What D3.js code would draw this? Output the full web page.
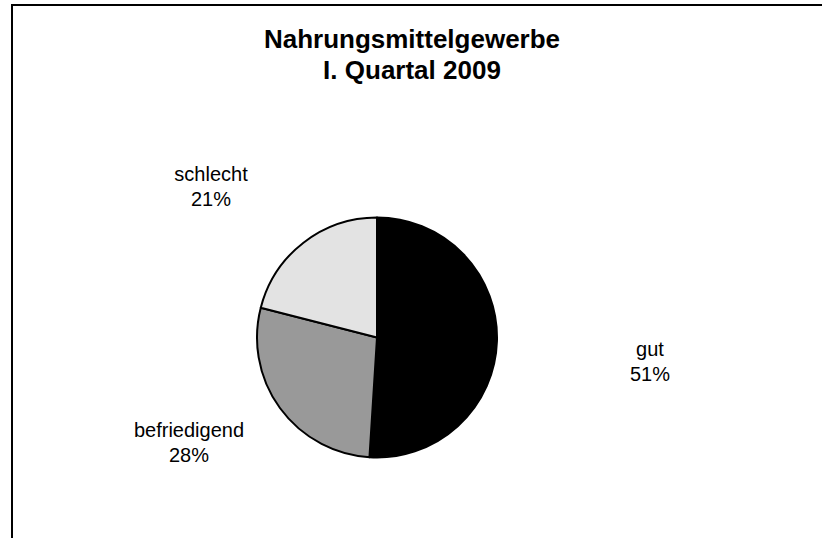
<!DOCTYPE html>
<html>
<head>
<meta charset="utf-8">
<script src="https://cdn.jsdelivr.net/npm/d3@7"></script>
<style>
  body { margin: 0; background: #fff; }
  text { font-family: "Liberation Sans", Arial, sans-serif; fill: #000; }
</style>
</head>
<body>
<svg width="822" height="538"></svg>
<script>
// categories and shares (percent)
var categories = ["gut", "befriedigend", "schlecht"];
var values = [51, 28, 21];
var titleLines = ["Nahrungsmittelgewerbe", "I. Quartal 2009"];

// look of the slices
var colors = ["#000000", "#999999", "#e3e3e3"];
// where each label block sits, relative to the pie centre (first baseline)
var labelOffset = [[273, 18], [-188, 99], [-166, -157]];

var svg = d3.select("svg"),
    cx = 377, cy = 337.5, radius = 120;

var data = categories.map(function(c, i) { return {name: c, value: values[i]}; });

// outer frame (runs off the right and bottom edge)
svg.append("path")
    .attr("d", "M12,560 L12,5 L840,5")
    .attr("fill", "none")
    .attr("stroke", "#000")
    .attr("stroke-width", 2);

// title
svg.append("g").selectAll("text")
    .data(titleLines).enter()
    .append("text")
    .attr("x", 412)
    .attr("y", function(d, i) { return 48 + i * 31; })
    .attr("text-anchor", "middle")
    .attr("font-size", 26)
    .attr("font-weight", "bold")
    .text(function(d) { return d; });

var pie = d3.pie()
    .sort(null)
    .value(function(d) { return d.value; });

var arc = d3.arc()
    .innerRadius(0)
    .outerRadius(radius);

var g = svg.append("g")
    .attr("transform", "translate(" + cx + "," + cy + ")");

g.selectAll("path")
    .data(pie(data)).enter()
    .append("path")
    .attr("d", arc)
    .attr("fill", function(d, i) { return colors[i]; })
    .attr("stroke", "#000")
    .attr("stroke-width", 2)
    .attr("stroke-linejoin", "round");

// data labels
var labels = g.selectAll("g.label")
    .data(pie(data)).enter()
    .append("g")
    .attr("class", "label")
    .attr("transform", function(d, i) {
        return "translate(" + labelOffset[i][0] + "," + labelOffset[i][1] + ")";
    });

labels.append("text")
    .attr("text-anchor", "middle")
    .attr("font-size", 20)
    .text(function(d) { return d.data.name; });
labels.append("text")
    .attr("text-anchor", "middle")
    .attr("font-size", 20)
    .attr("y", 25)
    .text(function(d) { return d.data.value + "%"; });
</script>
</body>
</html>
